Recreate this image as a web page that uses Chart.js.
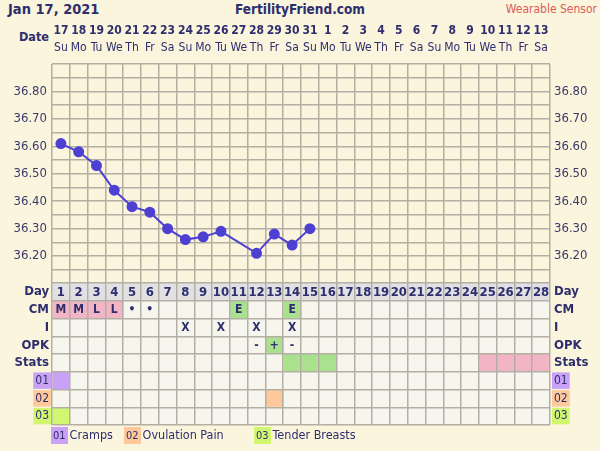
<!DOCTYPE html>
<html>
<head>
<meta charset="utf-8">
<script src="https://cdn.jsdelivr.net/npm/chart.js@4.4.1/dist/chart.umd.min.js"></script>
<style>
  body { margin: 0; width: 600px; height: 451px; overflow: hidden; position: relative;
         background: #faf5dc; color: #2e2e6e;
         font-family: "DejaVu Sans Condensed", "Liberation Sans Narrow", "Liberation Sans", sans-serif; }
  canvas { position: absolute; left: 0; }
  #temp { top: 0; }
  #table { top: 276px; }
  .txt { position: absolute; white-space: nowrap; line-height: 20px; }
  #when { left: 8px; top: -1px; font-weight: bold; font-size: 14.5px; }
  #site { left: 0; width: 600px; text-align: center; top: -1px; font-weight: bold; font-size: 13.5px; }
  #mode { right: 3px; top: -1px; font-size: 12px; color: #e05a5a; }
  #datelbl { left: 19px; top: 27px; font-weight: bold; font-size: 12.5px; }
  .leg { position: absolute; top: 426px; font-size: 12.5px; line-height: 18px; white-space: nowrap; }
  .leg span { display: inline-block; font-size: 11px; line-height: 17px; padding: 0 2px; margin-right: 2px; }
</style>
</head>
<body>
<div class="txt" id="when">Jan 17, 2021</div>
<div class="txt" id="site">FertilityFriend.com</div>
<div class="txt" id="mode">Wearable Sensor</div>
<div class="txt" id="datelbl">Date</div>
<canvas id="temp" width="600" height="284"></canvas>
<canvas id="table" width="600" height="175"></canvas>
<div id="legend"></div>

<script>
// ---- data ----
const dates    = ["17","18","19","20","21","22","23","24","25","26","27","28","29","30","31",
                  "1","2","3","4","5","6","7","8","9","10","11","12","13"];
const weekdays = ["Su","Mo","Tu","We","Th","Fr","Sa","Su","Mo","Tu","We","Th","Fr","Sa",
                  "Su","Mo","Tu","We","Th","Fr","Sa","Su","Mo","Tu","We","Th","Fr","Sa"];
const cycleDays = ["1","2","3","4","5","6","7","8","9","10","11","12","13","14",
                   "15","16","17","18","19","20","21","22","23","24","25","26","27","28"];

// waking temperature (°C), null = no reading
const temps = [36.61, 36.58, 36.53, 36.44, 36.38, 36.36, 36.30, 36.26, 36.27, 36.29,
               null, 36.21, 36.28, 36.24, 36.30,
               null, null, null, null, null, null, null, null, null, null, null, null, null];
const tempTicks = [36.10, 36.15, 36.20, 36.25, 36.30, 36.35, 36.40, 36.45, 36.50,
                   36.55, 36.60, 36.65, 36.70, 36.75, 36.80, 36.85, 36.90];
const tempLabels = ["36.20", "36.30", "36.40", "36.50", "36.60", "36.70", "36.80"];

// table rows
const rowNames = ["Day", "CM", "I", "OPK", "Stats", "01", "02", "03"];
const cm  = ["M","M","L","L","•","•","","","","","E","","","E","","","","","","","","","","","","","",""];
const intercourse = ["","","","","","","","X","","X","","X","","X","","","","","","","","","","","","","",""];
const opk = ["","","","","","","","","","","","-","+","-","","","","","","","","","","","","","",""];
// F = fertile window, P = expected period
const stats = ["","","","","","","","","","","","","","F","F","F","","","","","","","","","P","P","P","P"];
const cramps        = [1,0,0,0,0,0,0,0,0,0,0,0,0,0,0,0,0,0,0,0,0,0,0,0,0,0,0,0];
const ovulationPain = [0,0,0,0,0,0,0,0,0,0,0,0,1,0,0,0,0,0,0,0,0,0,0,0,0,0,0,0];
const tenderBreasts = [1,0,0,0,0,0,0,0,0,0,0,0,0,0,0,0,0,0,0,0,0,0,0,0,0,0,0,0];
const symptoms = [
  { code: "01", name: "Cramps", days: cramps },
  { code: "02", name: "Ovulation Pain", days: ovulationPain },
  { code: "03", name: "Tender Breasts", days: tenderBreasts },
];

// ---- styles ----
const NAVY = "#2e2e6e";
const GRID = "#b3afa3";
const FONT = "'DejaVu Sans Condensed', 'Liberation Sans Narrow', 'Liberation Sans', sans-serif";
const C = {
  cell: "#f6f6ef", head: "#e1e1e4", pink: "#f2b5c5", green: "#a9e18f",
  purple: "#c9a1f7", orange: "#fec89b", lime: "#d1f66f", line: "#4d40d3",
};
const symptomColors = [C.purple, C.orange, C.lime];
const legendLeft = [51, 124, 254];

const leftW = 52, rightW = 50;
// fixed axis width, and no extra room for half-labels at the ends
const fixW = w => s => { s.width = w; s.paddingTop = 0; s.paddingBottom = 0; };

// ---- temperature chart ----
const tempTickOpts = {
  color: "#3a3a6a", font: { family: FONT, size: 13 }, autoSkip: false,
  callback: v => { const t = v.toFixed(2); return tempLabels.includes(t) ? t : ""; },
};

new Chart(document.getElementById("temp"), {
  type: "line",
  data: {
    labels: weekdays,
    datasets: [{
      data: temps,
      borderColor: C.line,
      backgroundColor: C.line,
      borderWidth: 2,
      pointRadius: 4.5,
      pointHoverRadius: 4.5,
      spanGaps: true,
      segment: { borderDash: ctx => (ctx.p1DataIndex - ctx.p0DataIndex > 1 ? [4, 3] : undefined) },
    }],
  },
  options: {
    responsive: false, animation: false,
    layout: { autoPadding: false, padding: { top: 20, left: 0, right: 0, bottom: 0.5 } },
    plugins: { legend: { display: false }, tooltip: { enabled: false } },
    scales: {
      x: {
        position: "top", offset: true,
        grid: { color: GRID, lineWidth: 1.5, offset: true, drawTicks: false },
        border: { display: false },
        ticks: { color: NAVY, font: { family: FONT, size: 12 }, padding: 9, maxRotation: 0, autoSkip: false },
        afterFit: s => { s.height = 22; },
      },
      xDate: {
        position: "top", type: "category", labels: dates, offset: true,
        grid: { display: false, drawTicks: false },
        border: { display: false },
        ticks: { color: NAVY, font: { family: FONT, size: 12, weight: "bold" }, padding: 4, maxRotation: 0, autoSkip: false },
        afterFit: s => { s.height = 22; },
      },
      y: {
        min: 36.10, max: 36.90,
        grid: { color: GRID, lineWidth: 1.5, drawTicks: false },
        border: { display: false },
        afterBuildTicks: s => { s.ticks = tempTicks.map(v => ({ value: v })); },
        ticks: { ...tempTickOpts, padding: 5 },
        afterFit: fixW(leftW),
      },
      yRight: {
        position: "right", min: 36.10, max: 36.90,
        grid: { display: false, drawTicks: false },
        border: { display: false },
        afterBuildTicks: s => { s.ticks = tempTicks.map(v => ({ value: v })); },
        ticks: { ...tempTickOpts, padding: 4 },
        afterFit: fixW(rightW),
      },
    },
  },
});

// ---- observation table ----
function cellFill(row, col) {
  if (row === 0) return C.head;
  if (row === 1) return cm[col] === "M" || cm[col] === "L" ? C.pink : cm[col] === "E" ? C.green : C.cell;
  if (row === 3) return opk[col] === "+" ? C.green : C.cell;
  if (row === 4) return stats[col] === "F" ? C.green : stats[col] === "P" ? C.pink : C.cell;
  if (row >= 5) return symptoms[row - 5].days[col] ? symptomColors[row - 5] : C.cell;
  return C.cell;
}
const textRows = [cycleDays, cm, intercourse, opk];

const cellText = {
  id: "cellText",
  afterDatasetsDraw(chart) {
    const { ctx, scales: { x, y } } = chart;
    ctx.save();
    ctx.fillStyle = NAVY;
    ctx.textAlign = "center";
    ctx.textBaseline = "middle";
    textRows.forEach((row, r) => {
      ctx.font = (r === 0 ? "bold 13px " : "bold 12px ") + FONT;
      row.forEach((t, c) => {
        if (t) ctx.fillText(t, x.getPixelForValue(c + 0.5), y.getPixelForValue(r) + 0.5);
      });
    });
    ctx.restore();
  },
};

const rowTick = (side) => ({
  color: NAVY,
  font: ctx => (ctx.index >= 5 ? { family: FONT, size: 12 } : { family: FONT, size: 13, weight: "bold" }),
  showLabelBackdrop: ctx => ctx.index >= 5,
  backdropColor: ctx => (ctx.index >= 5 ? symptomColors[ctx.index - 5] : "rgba(0,0,0,0)"),
  backdropPadding: { top: 1, bottom: 1, left: 2, right: 2 },
  padding: side === "left" ? 3 : 4,
  autoSkip: false,
});

new Chart(document.getElementById("table"), {
  type: "bar",
  data: {
    labels: rowNames,
    datasets: cycleDays.map((d, col) => ({
      data: rowNames.map(() => [col, col + 1]),
      backgroundColor: ctx => cellFill(ctx.dataIndex, col),
      borderWidth: 0,
      grouped: false,
      barPercentage: 1,
      categoryPercentage: 1,
    })),
  },
  plugins: [cellText],
  options: {
    indexAxis: "y",
    responsive: false, animation: false,
    layout: { autoPadding: false, padding: { top: 7, left: 0, right: 0, bottom: 26 } },
    plugins: { legend: { display: false }, tooltip: { enabled: false } },
    scales: {
      x: {
        type: "linear", min: 0, max: 28,
        grid: { color: GRID, lineWidth: 1.5, drawTicks: false, z: 1 },
        border: { display: false },
        afterBuildTicks: s => { s.ticks = cycleDays.map((d, i) => ({ value: i })).concat([{ value: 28 }]); },
        ticks: { display: false, autoSkip: false },
        afterFit: s => { s.height = 0; },
      },
      y: {
        type: "category", offset: true,
        grid: { color: GRID, lineWidth: 1.5, offset: true, drawTicks: false, z: 1 },
        border: { display: false },
        ticks: rowTick("left"),
        afterFit: fixW(leftW),
      },
      yRight: {
        type: "category", position: "right", labels: rowNames, offset: true,
        grid: { display: false, drawTicks: false },
        border: { display: false },
        ticks: rowTick("right"),
        afterFit: fixW(rightW),
      },
    },
  },
});

// legend under the table
document.getElementById("legend").innerHTML = symptoms.map((s, i) =>
  `<div class="leg" style="left:${legendLeft[i]}px"><span style="background:${symptomColors[i]}">${s.code}</span>${s.name}</div>`
).join("");
</script>
</body>
</html>
